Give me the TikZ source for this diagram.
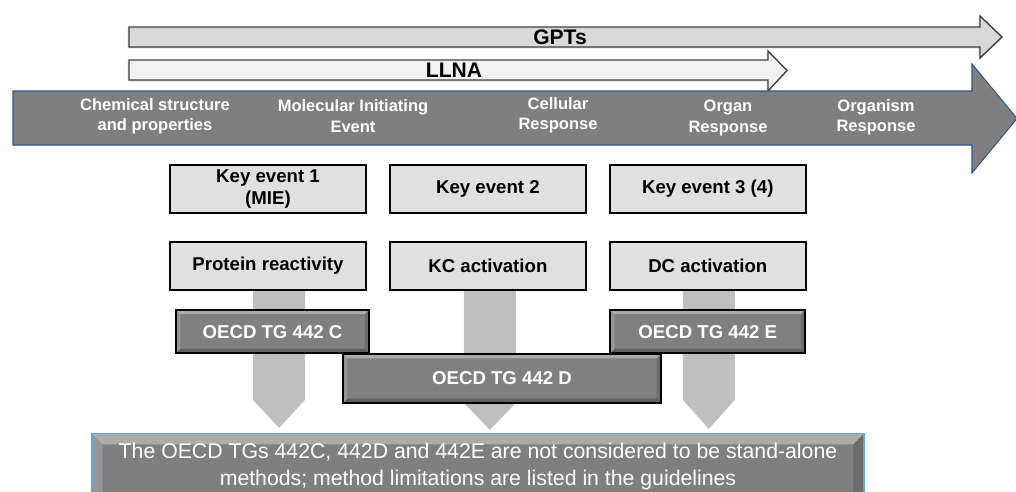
\documentclass[tikz,border=0pt]{standalone}
\usepackage{fontspec}
\setmainfont{Liberation Sans}
\usepackage{xcolor}
\definecolor{gptfill}{HTML}{D9D9D9}
\definecolor{llnafill}{HTML}{F2F2F2}
\definecolor{aopgray}{HTML}{7F7F7F}
\definecolor{aopblue}{HTML}{2F5597}
\definecolor{kefill}{HTML}{E0E0E0}
\definecolor{tgfill}{HTML}{808080}
\definecolor{chevgray}{HTML}{BFBFBF}
\definecolor{noteblue}{HTML}{5FA7CF}
\usepackage{tikz}
\usetikzlibrary{arrows,positioning,calc,shadows}
\pgfdeclarelayer{background}
\pgfsetlayers{background,main}
\tikzset{bevel/.style={path picture={
  \path (path picture bounding box.north west) coordinate (nw)
        (path picture bounding box.south east) coordinate (se)
        (nw-|se) coordinate (ne) (nw|-se) coordinate (sw);
  \fill[white,opacity=.35] (nw) -- (ne) -- ([shift={(-#1,-#1)}]ne) -- ([shift={(#1,-#1)}]nw) -- cycle;
  \fill[white,opacity=.18] (nw) -- ([shift={(#1,-#1)}]nw) -- ([shift={(#1,#1)}]sw) -- (sw) -- cycle;
  \fill[black,opacity=.25] (sw) -- (se) -- ([shift={(-#1,#1)}]se) -- ([shift={(#1,#1)}]sw) -- cycle;
  \fill[black,opacity=.15] (ne) -- ([shift={(-#1,-#1)}]ne) -- ([shift={(-#1,#1)}]se) -- (se) -- cycle;
}}}

\begin{document}
\begin{tikzpicture}[x=0.02cm,y=-0.02cm,node distance=0.54cm and 0.44cm]
  \tikzstyle{rng}=[draw=black!75,line width=0.8pt,drop shadow={shadow xshift=-0.8pt,shadow yshift=-0.8pt,opacity=.35}]
  \tikzstyle{band}=[fill=aopgray,draw=aopblue,line width=0.6pt]
  \tikzstyle{lbl}=[text=white,align=center,inner sep=0pt,font=\bfseries\fontsize{9.4}{11.6}\selectfont]
  \tikzstyle{ke}=[draw=black,line width=1.1pt,fill=kefill,minimum width=3.92cm,minimum height=0.96cm,inner sep=0pt,align=center,font=\bfseries\fontsize{10.6}{12.5}\selectfont]
  \tikzstyle{tg}=[draw=black,line width=1.1pt,fill=tgfill,text=white,minimum height=0.87cm,inner sep=0pt,bevel=2.5pt,font=\bfseries\fontsize{10.6}{12.5}\selectfont]
  \tikzstyle{chev}=[fill=chevgray]
  \tikzstyle{note}=[fill=aopgray,draw=noteblue,line width=0.8pt,minimum width=15.44cm,inner xsep=0pt,inner ysep=5.3pt,text depth=22pt,text=white,align=center,bevel=6pt,font=\fontsize{12.1}{15.3}\selectfont]

  \useasboundingbox (0,0) rectangle (1016,491);

  \draw[rng,fill=gptfill] (129,27) -- (980,27) -- (980,16) -- (1002,37) -- (980,58) -- (980,47) -- (129,47) -- cycle;
  \draw[rng,fill=llnafill] (129,60) -- (768,60) -- (768,51) -- (787,70.5) -- (768,91) -- (768,80) -- (129,80) -- cycle;
  \node[font=\bfseries\fontsize{12}{14}\selectfont] (gpts) at (560,37) {GPTs};
  \node[font=\bfseries\fontsize{12}{14}\selectfont] (llna) at (454,70) {LLNA};

  \draw[band] (13,91) -- (972,91) -- (972,64) -- (1017,118.5) -- (972,173) -- (972,145) -- (13,145) -- cycle;
  \node[lbl] (chem)  at (155,116) {Chemical structure\\and properties};
  \node[lbl] (mie)   at (353,116) {Molecular Initiating\\Event};
  \node[lbl] (cell)  at (558,115) {Cellular\\Response};
  \node[lbl] (organ) at (728,118) {Organ\\Response};
  \node[lbl] (orgm)  at (876,117) {Organism\\Response};

  \node[ke] (ke1) at (268,189) {Key event 1\\(MIE)};
  \node[ke] (ke2) [right=of ke1] {Key event 2};
  \node[ke] (ke3) [right=of ke2] {Key event 3 (4)};
  \node[ke] (pr)  [below=of ke1] {Protein reactivity};
  \node[ke] (kc)  [below=of ke2] {KC activation};
  \node[ke] (dc)  [below=of ke3] {DC activation};

  \node[tg,minimum width=3.86cm] (tgc) [below=0.36cm of pr,xshift=0.09cm] {OECD TG 442 C};
  \node[tg,minimum width=3.9cm]  (tge) [below=0.36cm of dc] {OECD TG 442 E};
  \node[tg,minimum width=6.36cm,minimum height=0.98cm] (tgd) at (502,378.5) {OECD TG 442 D};

  \node[note,anchor=north] (note) at (478,433) {The OECD TGs 442C, 442D and 442E are not considered to be stand-alone\\methods; method limitations are listed in the guidelines};

  \begin{pgfonlayer}{background}
    \fill[chev] ($(pr.south)+(-15,0)$) -- ++(52,0) -- ++(0,109) -- ++(-26,28) -- ++(-26,-28) -- cycle;
    \fill[chev] ($(kc.south)+(-24,0)$) -- ++(52,0) -- ++(0,112) -- ++(-26,27) -- ++(-26,-27) -- cycle;
    \fill[chev] ($(dc.south)+(-25,0)$) -- ++(52,0) -- ++(0,109) -- ++(-26,29) -- ++(-26,-29) -- cycle;
  \end{pgfonlayer}
\end{tikzpicture}
\end{document}
